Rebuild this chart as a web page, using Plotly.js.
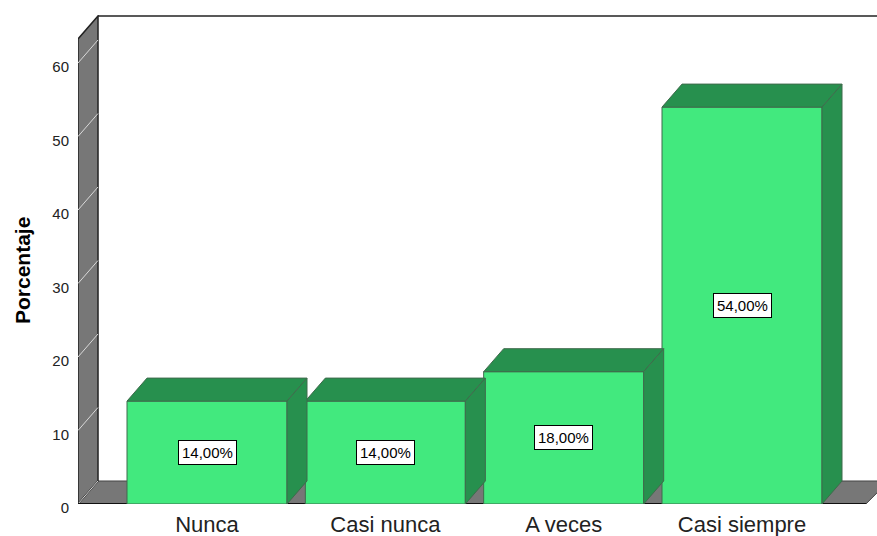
<!DOCTYPE html>
<html>
<head>
<meta charset="utf-8">
<script src="https://cdn.plot.ly/plotly-3.0.1.min.js"></script>
<style>html,body{margin:0;padding:0;background:#fff;}#chart{width:877px;height:536px;}</style>
</head>
<body>
<div id="chart"></div>
<script>
// ---- data ----
const categories = ["Nunca", "Casi nunca", "A veces", "Casi siempre"];
const percentages = [14, 14, 18, 54];
const yTickValues = [0, 10, 20, 30, 40, 50, 60];
const yAxisTitle = "Porcentaje";

// ---- styling / geometry (not data) ----
const FONT = "'Liberation Sans', Arial, sans-serif";
const FRONT = "#42E97E";
const DARK = "#27904E";
const EDGE = "#3f6b4c";
const WALL = "#777777";
const X_MIN = -0.7234, X_MAX = 3.757;
const Y_MAX = 66.53;
const WALL_H = 63.27;
const DX = 0.1122;   // depth offset in x units
const DY = 3.13;     // depth offset in y units
const HW = 0.4486;   // half bar width
const FLOOR_RIGHT = X_MAX - DX + 0.05;

const xs = categories.map((c, i) => i);

// front faces
const front = {
  type: "bar", x: xs, y: percentages, width: 2 * HW,
  marker: {color: FRONT, line: {color: EDGE, width: 1}},
  hoverinfo: "skip", showlegend: false
};

// top and side faces
const topX = [], topY = [], sideX = [], sideY = [];
xs.forEach((x, i) => {
  const v = percentages[i];
  topX.push(x - HW, x - HW + DX, x + HW + DX, x + HW, x - HW, null);
  topY.push(v, v + DY, v + DY, v, v, null);
  sideX.push(x + HW, x + HW, x + HW + DX, x + HW + DX, x + HW, null);
  sideY.push(0, v, v + DY, DY, 0, null);
});
const tops = {
  type: "scatter", mode: "lines", x: topX, y: topY, fill: "toself",
  fillcolor: DARK, line: {color: EDGE, width: 1}, hoverinfo: "skip", showlegend: false
};
const sides = {
  type: "scatter", mode: "lines", x: sideX, y: sideY, fill: "toself",
  fillcolor: DARK, line: {color: EDGE, width: 1}, hoverinfo: "skip", showlegend: false
};

// walls / floor shapes
const shapes = [];
shapes.push({
  type: "path", layer: "below", xref: "x", yref: "y",
  path: `M ${FLOOR_RIGHT},0 L ${X_MIN},0 L ${X_MIN + DX},${DY} L ${X_MAX + 0.05},${DY} L ${X_MAX + 0.05},${DY - 0.4} Z`,
  fillcolor: WALL, line: {color: "#444", width: 1}
});
shapes.push({
  type: "path", layer: "below", xref: "x", yref: "y",
  path: `M ${X_MIN},0 L ${X_MIN},${WALL_H} L ${X_MIN + DX},${WALL_H + DY} L ${X_MIN + DX},${DY} Z`,
  fillcolor: WALL, line: {color: "#222", width: 1.5}
});
yTickValues.forEach(v => {
  shapes.push({
    type: "line", layer: "below", xref: "x", yref: "y",
    x0: X_MIN, y0: v, x1: X_MIN + DX, y1: v + DY,
    line: {color: "#d9d9d9", width: 1}
  });
});
shapes.push({
  type: "line", layer: "below", xref: "x", yref: "y",
  x0: X_MIN + DX, y0: WALL_H + DY, x1: X_MAX + 0.05, y1: WALL_H + DY,
  line: {color: "#222", width: 1.5}
});
shapes.push({
  type: "line", layer: "below", xref: "x", yref: "y",
  x0: X_MIN, y0: 0, x1: FLOOR_RIGHT, y1: 0,
  line: {color: "#111", width: 2}
});

const annotations = xs.map((x, i) => ({
  x: x, y: percentages[i] / 2, xref: "x", yref: "y",
  text: percentages[i].toFixed(2).replace(".", ",") + "%",
  showarrow: false, bgcolor: "#ffffff", bordercolor: "#000000",
  borderwidth: 1, borderpad: 3,
  font: {family: FONT, size: 15, color: "#000"}
}));
annotations.push({
  xref: "paper", yref: "paper", x: -0.0701, y: 0.4785,
  text: "<b>" + yAxisTitle + "</b>", textangle: -90, showarrow: false,
  xanchor: "center", yanchor: "middle",
  font: {family: FONT, size: 21, color: "#000"}
});

const layout = {
  width: 877, height: 536,
  margin: {l: 78, r: 0, t: 15, b: 32},
  paper_bgcolor: "#ffffff", plot_bgcolor: "#ffffff",
  showlegend: false,
  xaxis: {
    range: [X_MIN, X_MAX], tickvals: xs, ticktext: categories,
    showgrid: false, zeroline: false, showline: false, ticks: "",
    ticklabelstandoff: 5,
    tickfont: {family: FONT, size: 22, color: "#222"}, fixedrange: true
  },
  yaxis: {
    range: [0, Y_MAX], tickvals: yTickValues,
    showgrid: false, zeroline: false, showline: false, ticks: "",
    ticklabelstandoff: 8, ticklabelshift: 4,
    tickfont: {family: FONT, size: 15, color: "#222"},
    fixedrange: true
  },
  shapes: shapes,
  annotations: annotations,
  bargap: 0
};

Plotly.newPlot("chart", [front, tops, sides], layout, {staticPlot: true, displayModeBar: false});
</script>
</body>
</html>
